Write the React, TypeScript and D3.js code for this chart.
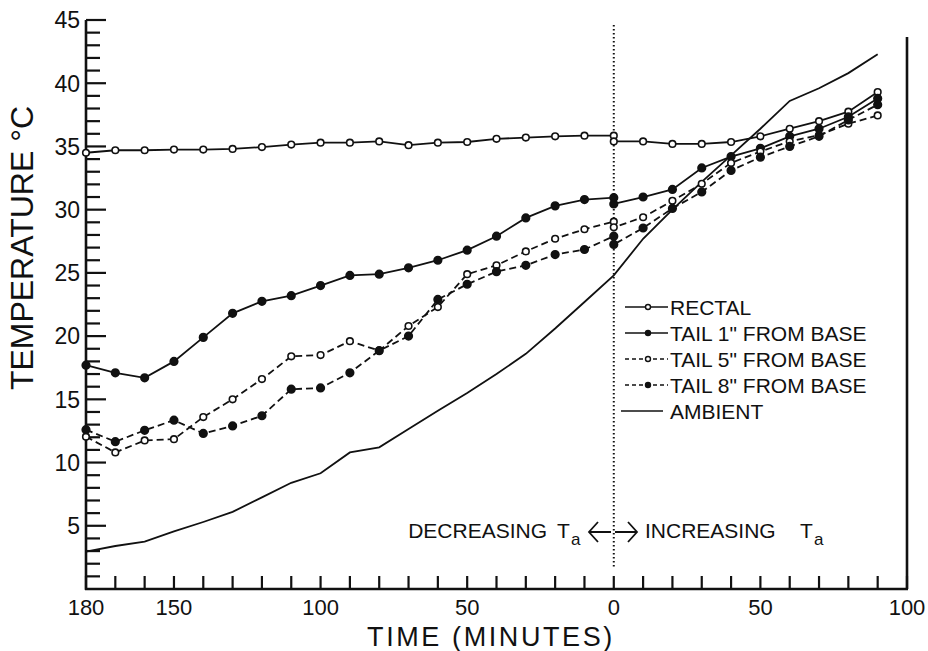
import React from "react";
import * as d3 from "d3";

const TIMES = [-180, -170, -160, -150, -140, -130, -120, -110, -100, -90, -80, -70, -60, -50, -40, -30, -20, -10, 0, 0, 10, 20, 30, 40, 50, 60, 70, 80, 90];

const RECTAL = [34.5, 34.7, 34.7, 34.75, 34.75, 34.8, 34.95, 35.15, 35.3, 35.3, 35.4, 35.1, 35.3, 35.35, 35.6, 35.7, 35.8, 35.85, 35.85, 35.4, 35.4, 35.2, 35.2, 35.35, 35.8, 36.4, 37.0, 37.75, 39.3];
const TAIL1 = [17.7, 17.1, 16.7, 18.0, 19.9, 21.8, 22.75, 23.2, 24.0, 24.8, 24.9, 25.4, 26.0, 26.8, 27.9, 29.35, 30.3, 30.8, 30.95, 30.45, 31.0, 31.6, 33.3, 34.2, 34.85, 35.8, 36.4, 37.35, 38.8];
const TAIL5 = [12.05, 10.8, 11.75, 11.85, 13.6, 15.0, 16.6, 18.4, 18.5, 19.6, 18.85, 20.8, 22.3, 24.9, 25.6, 26.7, 27.7, 28.45, 29.05, 28.6, 29.4, 30.7, 32.05, 33.7, 34.6, 35.4, 35.9, 36.8, 37.45];
const TAIL8 = [12.6, 11.65, 12.55, 13.35, 12.3, 12.9, 13.7, 15.8, 15.9, 17.1, 18.85, 20.0, 22.9, 24.1, 25.1, 25.6, 26.45, 26.85, 27.9, 27.25, 28.55, 30.1, 31.4, 33.1, 34.15, 35.0, 35.8, 37.1, 38.3];
const AMBIENT = [2.95, 3.4, 3.75, 4.55, 5.3, 6.1, 7.25, 8.4, 9.15, 10.8, 11.2, 12.65, 14.1, 15.5, 17.0, 18.6, 20.6, 22.7, 24.8, 24.8, 27.7, 30.0, 32.2, 34.3, 36.4, 38.6, 39.6, 40.8, 42.3];

const X_TICK_LABELS = [
  { t: -180, label: "180" },
  { t: -150, label: "150" },
  { t: -100, label: "100" },
  { t: -50, label: "50" },
  { t: 0, label: "0" },
  { t: 50, label: "50" },
  { t: 100, label: "100" },
];
const Y_TICK_LABELS = [5, 10, 15, 20, 25, 30, 35, 40, 45];

const LEGEND = [
  { name: "RECTAL", dash: false, marker: "open" },
  { name: "TAIL 1\" FROM BASE", dash: false, marker: "filled" },
  { name: "TAIL 5\" FROM BASE", dash: true, marker: "open" },
  { name: "TAIL 8\" FROM BASE", dash: true, marker: "filled" },
  { name: "AMBIENT", dash: false, marker: "none" },
];

const FONT = "'Liberation Sans', Arial, sans-serif";
const INK = "#111";

export default function App() {
  const x = d3.scaleLinear().domain([-180, 100]).range([86, 907]);
  const y = d3.scaleLinear().domain([0, 45]).range([589, 20]);

  const xTicks = d3.range(-180, 101, 10);
  const yTicks = d3.range(1, 46, 1);

  const mk = (vals: number[]) => TIMES.map((t, i) => [t, vals[i]] as [number, number]);
  const line = d3.line<[number, number]>().x((d) => x(d[0])).y((d) => y(d[1]));

  const series = [
    { data: mk(RECTAL), dash: undefined, marker: "open" },
    { data: mk(TAIL1), dash: undefined, marker: "filled" },
    { data: mk(TAIL5), dash: "7 4", marker: "open" },
    { data: mk(TAIL8), dash: "7 4", marker: "filled" },
    { data: mk(AMBIENT), dash: undefined, marker: "none" },
  ];

  const legendY = [307, 333, 359, 385, 411];

  return (
    <svg
      width={928}
      height={651}
      style={{ position: "absolute", left: 0, top: 0, background: "#fff" }}
      fontFamily={FONT}
    >
      <rect x={0} y={0} width={928} height={651} fill="#fff" />

      {/* axes */}
      <line x1={x(-180)} y1={y(45)} x2={x(-180)} y2={y(0) + 1} stroke={INK} strokeWidth={2.6} />
      <line x1={x(-180) - 1} y1={y(0)} x2={x(100) + 1} y2={y(0)} stroke={INK} strokeWidth={2.6} />
      <line x1={x(100)} y1={37} x2={x(100)} y2={y(0)} stroke={INK} strokeWidth={2.6} />

      {yTicks.map((v) => (
        <line
          key={"yt" + v}
          x1={x(-180)}
          x2={x(-180) + (v % 5 === 0 ? 20 : 14)}
          y1={y(v)}
          y2={y(v)}
          stroke={INK}
          strokeWidth={2.2}
        />
      ))}
      {xTicks.map((t) => (
        <line key={"xt" + t} x1={x(t)} x2={x(t)} y1={y(0)} y2={y(0) - 13} stroke={INK} strokeWidth={2.2} />
      ))}

      {Y_TICK_LABELS.map((v) => (
        <text key={"yl" + v} x={80} y={y(v)} dy="0.36em" textAnchor="end" fontSize={23} fill={INK}>
          {v}
        </text>
      ))}
      {X_TICK_LABELS.map((d) => (
        <text key={"xl" + d.t + d.label} x={x(d.t)} y={615} textAnchor="middle" fontSize={22} fill={INK}>
          {d.label}
        </text>
      ))}

      <text x={491} y={646} textAnchor="middle" fontSize={27} letterSpacing={2.6} fill={INK}>
        TIME (MINUTES)
      </text>
      <text
        transform="translate(33,248) rotate(-90)"
        textAnchor="middle"
        fontSize={32}
        fill={INK}
      >
        TEMPERATURE °C
      </text>

      {/* dotted divider */}
      <line x1={x(0)} x2={x(0)} y1={25} y2={568} stroke={INK} strokeWidth={2} strokeDasharray="1.5 2.5" />

      {/* series */}
      {series.map((s, i) => (
        <path
          key={"s" + i}
          d={line(s.data) || ""}
          fill="none"
          stroke={INK}
          strokeWidth={1.8}
          strokeDasharray={s.dash}
        />
      ))}
      {series.map((s, i) =>
        s.marker === "none"
          ? null
          : s.data.map((d, j) => (
              <circle
                key={"m" + i + "_" + j}
                cx={x(d[0])}
                cy={y(d[1])}
                r={s.marker === "open" ? 3.3 : 3.8}
                fill={s.marker === "open" ? "#fff" : INK}
                stroke={INK}
                strokeWidth={1.6}
              />
            ))
      )}

      {/* legend */}
      {LEGEND.map((l, i) => {
        const ly = legendY[i];
        const x1 = l.marker === "none" ? 621 : 625;
        const x2 = l.marker === "none" ? 663 : 668;
        return (
          <g key={"lg" + i}>
            <line x1={x1} x2={x2} y1={ly} y2={ly} stroke={INK} strokeWidth={1.7} strokeDasharray={l.dash ? "4 3" : undefined} />
            {l.marker !== "none" && (
              <circle
                cx={648}
                cy={ly}
                r={2.5}
                fill={l.marker === "open" ? "#fff" : INK}
                stroke={INK}
                strokeWidth={1.4}
              />
            )}
            <text x={670} y={ly} dy="0.36em" fontSize={21} fill={INK}>
              {l.name}
            </text>
          </g>
        );
      })}

      {/* decreasing / increasing annotation */}
      <text x={547} y={538} textAnchor="end" fontSize={21} fill={INK}>DECREASING</text>
      <text x={557} y={538} fontSize={21} fill={INK}>T</text>
      <text x={571} y={545} fontSize={17} fill={INK}>a</text>
      <path d="M598,522 L589,532 L598,542 M589,532 L611,532" fill="none" stroke={INK} strokeWidth={1.8} />
      <path d="M628,522 L637,532 L628,542 M615,532 L637,532" fill="none" stroke={INK} strokeWidth={1.8} />
      <text x={645} y={538} fontSize={21} fill={INK}>INCREASING</text>
      <text x={800} y={538} fontSize={21} fill={INK}>T</text>
      <text x={814} y={545} fontSize={17} fill={INK}>a</text>
    </svg>
  );
}
